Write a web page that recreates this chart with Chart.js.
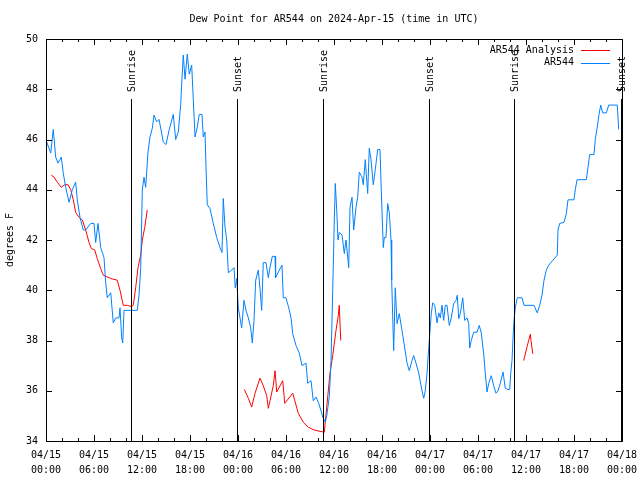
<!DOCTYPE html>
<html>
<head>
<meta charset="utf-8">
<title>Dew Point for AR544</title>
<script src="https://cdn.jsdelivr.net/npm/chart.js@4.4.1/dist/chart.umd.min.js"></script>
<style>
  html, body { margin: 0; padding: 0; background: #fff; }
  #wrap { width: 640px; height: 480px; }
</style>
</head>
<body>
<div id="wrap"><canvas id="dewChart" width="640" height="480"></canvas></div>
<script>
// All times are hours since 2024-04-15 00:00 UTC

// AR544 station dew point (deg F)
const stationHours = [
    0.09, 0.59, 0.91, 1.21, 1.5, 1.91, 2.16, 2.46, 2.88, 3.29, 3.71, 3.91, 4.25, 4.66, 4.96, 5.59, 6.0, 6.21, 6.5, 6.84,
    7.25, 7.46, 7.66, 8.09, 8.41, 8.71, 9.13, 9.25, 9.46, 9.59, 9.75, 10.59, 11.41, 11.63, 11.84, 12.04, 12.25, 12.46, 12.75, 13.0,
    13.29, 13.5, 13.84, 14.13, 14.25, 14.66, 15.0, 15.41, 15.91, 16.21, 16.54, 16.84, 16.96, 17.16, 17.38, 17.66, 17.91, 18.21, 18.41, 18.63,
    18.91, 19.16, 19.5, 19.66, 19.88, 20.0, 20.16, 20.5, 20.91, 21.34, 21.75, 22.0, 22.16, 22.38, 22.59, 22.79, 23.21, 23.5, 23.66, 23.84,
    24.04, 24.25, 24.46, 24.75, 25.0, 25.29, 25.59, 25.79, 26.0, 26.21, 26.54, 26.75, 26.96, 27.16, 27.5, 27.79, 28.0, 28.29, 28.63, 28.7,
    29.16, 29.5, 29.66, 30.0, 30.34, 30.63, 30.84, 31.25, 31.66, 32.0, 32.5, 32.71, 33.13, 33.41, 33.75, 34.09, 34.38, 34.59, 34.91, 35.09,
    35.41, 35.63, 35.84, 36.04, 36.16, 36.34, 36.5, 36.66, 37.0, 37.29, 37.5, 37.84, 38.0, 38.25, 38.46, 38.75, 38.96, 39.16, 39.5, 39.66,
    39.91, 40.21, 40.41, 40.63, 40.91, 41.16, 41.46, 41.75, 41.91, 42.16, 42.29, 42.5, 42.71, 42.91, 43.13, 43.21, 43.46, 43.66, 43.88, 44.16,
    44.5, 44.84, 45.13, 45.41, 45.75, 45.96, 46.25, 46.59, 46.91, 47.21, 47.41, 47.63, 47.75, 47.91, 48.16, 48.34, 48.59, 48.88, 49.09, 49.29,
    49.5, 49.71, 49.91, 50.13, 50.41, 50.66, 50.96, 51.25, 51.41, 51.59, 51.79, 52.09, 52.34, 52.63, 52.84, 52.96, 53.16, 53.46, 53.88, 54.16,
    54.41, 54.71, 54.91, 55.13, 55.34, 55.66, 55.96, 56.25, 56.5, 56.79, 57.13, 57.41, 57.75, 57.96, 58.09, 58.25, 58.38, 58.5, 58.66, 58.91,
    59.5, 59.75, 61.0, 61.41, 61.71, 62.0, 62.25, 62.54, 62.84, 63.38, 63.91, 64.0, 64.21, 64.75, 65.04, 65.25, 66.0, 66.16, 66.38, 67.54,
    67.75, 67.96, 68.5, 68.66, 68.91, 69.13, 69.34, 69.59, 70.04, 70.34, 71.41, 71.59
];
const stationDewPoint = [
    45.9, 45.46, 46.4, 45.3, 45.06, 45.3, 44.66, 44.1, 43.5, 44.0, 44.3, 43.6, 42.9, 42.4, 42.4, 42.66, 42.66, 41.9, 42.66, 41.7,
    41.3, 40.3, 39.7, 39.9, 38.7, 38.9, 38.9, 39.3, 38.1, 37.9, 39.2, 39.2, 39.2, 39.8, 40.9, 44.0, 44.5, 44.1, 45.5, 46.1,
    46.45, 46.97, 46.7, 46.8, 46.6, 45.9, 45.8, 46.4, 47.0, 46.0, 46.3, 47.4, 48.2, 49.36, 48.4, 49.4, 48.6, 48.96, 47.6, 46.1,
    46.5, 47.0, 47.0, 46.1, 46.3, 44.9, 43.4, 43.25, 42.66, 42.1, 41.7, 41.5, 43.65, 42.5, 42.0, 40.7, 40.8, 40.9, 40.1, 40.47,
    39.3, 38.9, 38.5, 39.6, 39.2, 38.9, 38.5, 37.9, 38.8, 40.4, 40.8, 40.07, 39.2, 41.1, 41.1, 40.5, 40.9, 41.35, 41.35, 40.5,
    40.8, 41.0, 39.7, 39.7, 39.3, 38.9, 38.27, 37.8, 37.5, 37.0, 37.1, 36.3, 36.4, 35.6, 35.75, 35.5, 35.2, 34.95, 34.75, 35.0,
    35.75, 37.2, 40.0, 42.8, 44.25, 43.2, 42.0, 42.3, 42.2, 41.46, 42.0, 40.9, 43.3, 43.7, 42.4, 43.3, 43.7, 44.7, 44.5, 44.2,
    45.2, 43.85, 45.65, 45.2, 44.2, 44.8, 45.6, 45.6, 44.0, 41.7, 42.1, 42.1, 43.45, 43.1, 42.0, 40.4, 37.6, 40.1, 38.67, 39.07,
    38.4, 37.7, 37.1, 36.8, 37.2, 37.4, 37.1, 36.7, 36.15, 35.7, 36.0, 36.7, 37.3, 38.0, 39.07, 39.5, 39.4, 38.7, 39.1, 38.9,
    39.4, 38.8, 39.4, 39.4, 38.6, 38.9, 39.47, 39.6, 39.8, 38.87, 39.07, 39.7, 38.8, 38.9, 38.67, 37.7, 38.0, 38.33, 38.33, 38.6,
    38.3, 37.47, 36.7, 35.95, 36.3, 36.6, 36.2, 35.9, 36.0, 36.3, 36.75, 36.1, 36.05, 36.05, 36.7, 37.2, 38.1, 38.8, 39.3, 39.7,
    39.7, 39.4, 39.4, 39.1, 39.4, 39.8, 40.4, 40.8, 41.0, 41.2, 41.4, 42.4, 42.66, 42.7, 43.05, 43.6, 43.6, 44.0, 44.4, 44.4,
    44.9, 45.4, 45.4, 46.0, 46.5, 47.0, 47.37, 47.06, 47.06, 47.37, 47.37, 46.4
];

// AR544 analysis dew point (deg F), null marks a break in the line
const analysisHours = [
    0.66, 1.0, 1.41, 1.91, 2.34, 2.75, 3.09, 3.41, 3.71, 4.13, 4.54, 4.96, 5.38, 5.66, 6.09, 6.41, 6.84, 7.16, 7.88, 8.29,
    8.91, 9.25, 9.66, 10.16, 10.66, 10.91, 11.21, 11.5, 11.84, 12.04, 12.34, 12.66,
    18.0,
    24.79, 25.29, 25.71, 26.13, 26.75, 27.16, 27.59, 27.79, 28.0, 28.41, 28.63, 28.84, 29.59, 29.84, 30.84, 31.54, 32.16, 32.79, 33.41,
    34.04, 34.79, 35.09, 35.5, 35.84, 36.25, 36.54, 36.66, 36.84,
    48.0,
    59.71, 60.13, 60.54, 60.63, 60.84
];
const analysisDewPoint = [
    44.58, 44.5, 44.3, 44.1, 44.2, 44.2, 44.0, 43.6, 43.1, 42.9, 42.8, 42.4, 41.9, 41.66, 41.6, 41.26, 40.86, 40.6, 40.5, 40.45,
    40.4, 40.0, 39.4, 39.4, 39.35, 39.4, 40.1, 40.9, 41.4, 42.0, 42.5, 43.2,
    null,
    36.05, 35.7, 35.35, 35.9, 36.5, 36.2, 35.8, 35.3, 35.6, 36.2, 36.8, 35.95, 36.4, 35.5, 35.9, 35.1, 34.75, 34.55, 34.45,
    34.4, 34.35, 35.35, 36.7, 37.4, 38.4, 39.0, 39.4, 38.0,
    null,
    37.2, 37.75, 38.25, 38.0, 37.47
];

// Sunrise / sunset markers
const sunHours = [10.66, 23.92, 34.6, 47.85, 58.5, 71.85];
const sunLabels = ['Sunrise', 'Sunset', 'Sunrise', 'Sunset', 'Sunrise', 'Sunset'];

// X tick labels, one per 6 hours
const xTickLabels = [
    ['04/15', '00:00'], ['04/15', '06:00'], ['04/15', '12:00'], ['04/15', '18:00'],
    ['04/16', '00:00'], ['04/16', '06:00'], ['04/16', '12:00'], ['04/16', '18:00'],
    ['04/17', '00:00'], ['04/17', '06:00'], ['04/17', '12:00'], ['04/17', '18:00'],
    ['04/18', '00:00']
];

const FONT = "'DejaVu Sans Mono', monospace";

function toPoints(hours, values) {
    return hours.map((h, i) => ({ x: h, y: values[i] }));
}

// Gnuplot style frame with inward ticks on all four sides
const frameTicks = {
    id: 'frameTicks',
    afterDatasetsDraw(chart) {
        const { ctx, chartArea: a, scales: { x, y } } = chart;
        ctx.save();
        ctx.strokeStyle = '#000';
        ctx.lineWidth = 1;
        ctx.beginPath();
        for (let h = x.min; h <= x.max; h += 2) {
            const px = Math.round(x.getPixelForValue(h)) + 0.5;
            const len = h % 6 === 0 ? 6 : 3;
            ctx.moveTo(px, a.bottom); ctx.lineTo(px, a.bottom - len);
            ctx.moveTo(px, a.top); ctx.lineTo(px, a.top + len);
        }
        for (let v = y.min; v <= y.max; v += 2) {
            const py = Math.round(y.getPixelForValue(v)) + 0.5;
            ctx.moveTo(a.left, py); ctx.lineTo(a.left + 6, py);
            ctx.moveTo(a.right, py); ctx.lineTo(a.right - 6, py);
        }
        ctx.stroke();
        ctx.strokeRect(Math.round(a.left) + 0.5, Math.round(a.top) + 0.5,
            Math.round(a.right - a.left), Math.round(a.bottom - a.top));
        ctx.restore();
    }
};

// Vertical sunrise/sunset lines with rotated labels
const sunMarkers = {
    id: 'sunMarkers',
    afterDatasetsDraw(chart) {
        const { ctx, chartArea: a, scales: { x } } = chart;
        ctx.save();
        ctx.strokeStyle = '#000';
        ctx.lineWidth = 1;
        ctx.fillStyle = '#000';
        ctx.font = '10px ' + FONT;
        sunHours.forEach((h, i) => {
            const px = Math.round(x.getPixelForValue(h)) + 0.5;
            ctx.beginPath();
            ctx.moveTo(px, a.top + 60);
            ctx.lineTo(px, a.bottom);
            ctx.stroke();
            ctx.save();
            ctx.translate(px + 1, a.top + 53);
            ctx.rotate(-Math.PI / 2);
            ctx.textAlign = 'left';
            ctx.textBaseline = 'middle';
            ctx.fillText(sunLabels[i], 0, 0);
            ctx.restore();
        });
        ctx.restore();
    }
};

// Legend in the top right corner, text then line sample
const cornerLegend = {
    id: 'cornerLegend',
    afterDraw(chart) {
        const { ctx, chartArea: a } = chart;
        ctx.save();
        ctx.font = '10px ' + FONT;
        ctx.textAlign = 'right';
        ctx.textBaseline = 'middle';
        chart.data.datasets.forEach((ds, i) => {
            const ly = a.top + 11 + i * 12.5;
            ctx.fillStyle = '#000';
            ctx.fillText(ds.label, a.right - 48, ly);
            ctx.strokeStyle = ds.borderColor;
            ctx.lineWidth = 1;
            ctx.beginPath();
            ctx.moveTo(a.right - 41, Math.round(ly) + 0.5);
            ctx.lineTo(a.right - 12, Math.round(ly) + 0.5);
            ctx.stroke();
        });
        ctx.restore();
    }
};

Chart.defaults.font.family = FONT;
Chart.defaults.font.size = 10;
Chart.defaults.color = '#000';

const ctx = document.getElementById('dewChart').getContext('2d');
new Chart(ctx, {
    type: 'line',
    data: {
        datasets: [{
            label: 'AR544 Analysis',
            data: toPoints(analysisHours, analysisDewPoint),
            borderColor: '#ff0000',
            borderWidth: 1,
            pointRadius: 0,
            spanGaps: false,
            order: 1
        }, {
            label: 'AR544',
            data: toPoints(stationHours, stationDewPoint),
            borderColor: '#0080ff',
            borderWidth: 1,
            pointRadius: 0,
            order: 0
        }]
    },
    options: {
        responsive: false,
        animation: false,
        devicePixelRatio: 1,
        layout: { padding: { left: 0, right: 18, top: 0, bottom: 0 } },
        plugins: {
            legend: { display: false },
            tooltip: { enabled: false },
            title: {
                display: true,
                text: 'Dew Point for AR544 on 2024-Apr-15 (time in UTC)',
                fullSize: false,
                color: '#000',
                font: { family: FONT, size: 10, weight: 'normal', lineHeight: 1.2 },
                padding: { top: 13, bottom: 14 }
            }
        },
        scales: {
            x: {
                type: 'linear',
                min: 0,
                max: 72,
                grid: { display: false, drawTicks: false },
                border: { display: false },
                afterFit: (scale) => {
                    scale.height = 39;
                    // edge labels fit inside the margins already
                    scale.paddingLeft = 0;
                    scale.paddingRight = 0;
                },
                ticks: {
                    stepSize: 6,
                    autoSkip: false,
                    maxRotation: 0,
                    padding: 7,
                    font: { size: 10, lineHeight: 1.5 },
                    callback: (v) => xTickLabels[v / 6]
                }
            },
            y: {
                min: 34,
                max: 50,
                grid: { display: false, drawTicks: false },
                border: { display: false },
                afterFit: (scale) => { scale.width = 46; },
                title: {
                    display: true,
                    text: 'degrees F',
                    font: { size: 10 },
                    padding: { top: 4, bottom: 4 }
                },
                ticks: {
                    stepSize: 2,
                    padding: 8,
                    font: { size: 10 }
                }
            }
        }
    },
    plugins: [frameTicks, sunMarkers, cornerLegend]
});
</script>
</body>
</html>
